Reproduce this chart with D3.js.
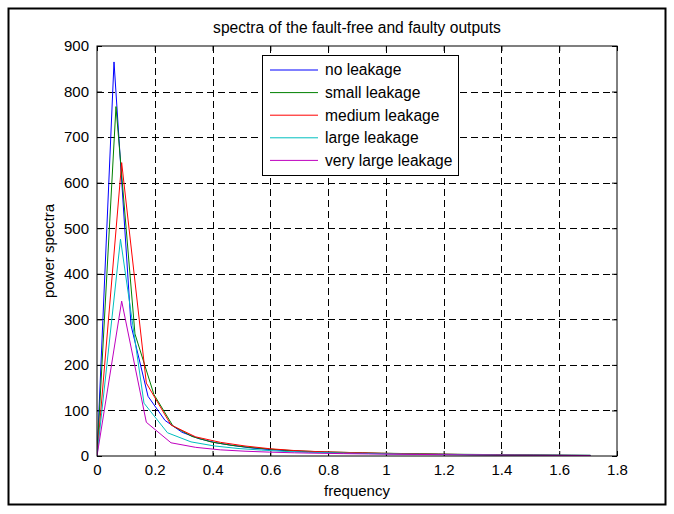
<!DOCTYPE html>
<html><head><meta charset="utf-8">
<script src="https://cdn.jsdelivr.net/npm/d3@7"></script>
<style>body{margin:0;background:#fff} text{font-family:Arial,"Liberation Sans",sans-serif;fill:#000}</style>
</head><body><svg id="c" width="674" height="514"></svg>
<script>
const titleText = "spectra of the fault-free and faulty outputs";
const xLabelText = "frequency";
const yLabelText = "power spectra";
const seriesNames = ["no leakage", "small leakage", "medium leakage", "large leakage", "very large leakage"];
const seriesColors = ["#0000ff", "#008000", "#ff0000", "#00bfbf", "#bf00bf"];
const fMax = 1.708;
const noLeakage = [0, 865, 287, 131, 78, 52, 38, 29, 23, 18, 14.5, 12, 10, 8.5, 7.5, 6.5, 5.8, 5.2, 4.7, 4.2, 3.8, 3.4, 3.0, 2.7, 2.4, 2.1, 1.9, 1.7, 1.5, 1.3];
const smallLeakage = [0, 767, 268, 135, 66, 43, 31, 24, 19, 15.5, 12.5, 10.5, 9, 8, 7, 6.2, 5.5, 4.9, 4.3, 3.8, 3.4, 3.0, 2.6, 2.3, 2.0, 1.7, 1.5];
const mediumLeakage = [0, 644, 160, 68, 42, 30, 22, 16, 12, 9.5, 8, 6.5, 5.5, 4.5, 3.8, 3.2, 2.6, 2.1, 1.7, 1.4, 1.1];
const largeLeakage = [0, 476, 116, 51, 31, 22, 16.5, 13, 10, 8.2, 7, 6, 5, 4.3, 3.7, 3.2, 2.7, 2.3, 2.0, 1.7, 1.4, 1.2];
const veryLargeLeakage = [0, 340, 74, 29, 19, 13.5, 10.5, 8.5, 7, 6, 5.2, 4.5, 3.9, 3.4, 2.9, 2.5, 2.1, 1.8, 1.5, 1.2, 1.0];
const xTicks = [0, 0.2, 0.4, 0.6, 0.8, 1, 1.2, 1.4, 1.6, 1.8];
const yTicks = [0, 100, 200, 300, 400, 500, 600, 700, 800, 900];

const allSeries = [noLeakage, smallLeakage, mediumLeakage, largeLeakage, veryLargeLeakage];

const svg = d3.select("#c");
const L = 97, R = 617, T = 46, B = 456;
const FS = 15;
const FS2 = 15.6;
const x = d3.scaleLinear().domain([0, 1.8]).range([L, R]);
const y = d3.scaleLinear().domain([0, 900]).range([B, T]);

svg.append("rect").attr("width", 674).attr("height", 514).attr("fill", "#fff");
svg.append("rect").attr("x", 8.5).attr("y", 8.5).attr("width", 657).attr("height", 496)
  .attr("fill", "none").attr("stroke", "#000").attr("stroke-width", 2);

// grid
const g = svg.append("g");
g.selectAll(".gx").data(xTicks.slice(1, -1)).enter().append("line")
  .attr("x1", d => Math.round(x(d)) + 0.5).attr("x2", d => Math.round(x(d)) + 0.5)
  .attr("y1", T).attr("y2", B)
  .attr("stroke", "#000").attr("stroke-dasharray", "7,4").attr("stroke-width", 1);
g.selectAll(".gy").data(yTicks.slice(1, -1)).enter().append("line")
  .attr("y1", d => Math.round(y(d)) + 0.5).attr("y2", d => Math.round(y(d)) + 0.5)
  .attr("x1", L).attr("x2", R)
  .attr("stroke", "#000").attr("stroke-dasharray", "7,4").attr("stroke-width", 1);

// axes
const xAxisB = d3.axisBottom(x).tickValues(xTicks).tickFormat(d3.format("~g")).tickSizeInner(-5).tickSizeOuter(0).tickPadding(8);
const xAxisT = d3.axisTop(x).tickValues(xTicks).tickFormat("").tickSizeInner(-5).tickSizeOuter(0);
const yAxisL = d3.axisLeft(y).tickValues(yTicks).tickSizeInner(-5).tickSizeOuter(0).tickPadding(8);
const yAxisR = d3.axisRight(y).tickValues(yTicks).tickFormat("").tickSizeInner(-5).tickSizeOuter(0);
function styleAxis(sel) {
  sel.select(".domain").remove();
  sel.selectAll("line").attr("stroke", "#000");
  sel.selectAll("text").attr("font-size", FS).attr("font-family", "Arial, 'Liberation Sans', sans-serif").attr("fill", "#000");
}
svg.append("g").attr("transform", `translate(0,${B})`).call(xAxisB).call(styleAxis);
svg.append("g").attr("transform", `translate(0,${T})`).call(xAxisT).call(styleAxis);
svg.append("g").attr("transform", `translate(${L},0)`).call(yAxisL).call(styleAxis);
svg.append("g").attr("transform", `translate(${R},0)`).call(yAxisR).call(styleAxis);

// lines
const line = d3.line().x(d => x(d[0])).y(d => y(d[1]));
const clipId = "clip";
svg.append("clipPath").attr("id", clipId).append("rect").attr("x", L).attr("y", T).attr("width", R - L).attr("height", B - T);
allSeries.forEach((vals, k) => {
  const n = vals.length;
  const pts = vals.map((v, i) => [i * fMax / (n - 1), v]);
  svg.append("path").datum(pts).attr("d", line).attr("fill", "none")
    .attr("stroke", seriesColors[k]).attr("stroke-width", 1).attr("clip-path", `url(#${clipId})`);
});

// box
svg.append("rect").attr("x", L).attr("y", T).attr("width", R - L).attr("height", B - T)
  .attr("fill", "none").attr("stroke", "#000").attr("stroke-width", 1);

// legend
const lg = svg.append("g");
const lx = 262, ly = 55, lw = 196, lh = 120;
lg.append("rect").attr("x", lx + 0.5).attr("y", ly + 0.5).attr("width", lw).attr("height", lh)
  .attr("fill", "#fff").attr("stroke", "#000");
seriesNames.forEach((nm, k) => {
  const yy = 70 + k * 22.6;
  lg.append("line").attr("x1", 270).attr("x2", 318).attr("y1", yy).attr("y2", yy).attr("stroke", seriesColors[k]);
  lg.append("text").attr("x", 325).attr("y", yy).attr("dy", "0.35em").attr("font-size", FS2).text(nm);
});

// titles
svg.append("text").attr("x", (L + R) / 2).attr("y", 33).attr("text-anchor", "middle").attr("font-size", FS2).text(titleText);
svg.append("text").attr("x", (L + R) / 2).attr("y", 496).attr("text-anchor", "middle").attr("font-size", FS).text(xLabelText);
svg.append("text").attr("transform", `translate(54,${(T + B) / 2}) rotate(-90)`).attr("text-anchor", "middle").attr("font-size", FS).text(yLabelText);
</script></body></html>
